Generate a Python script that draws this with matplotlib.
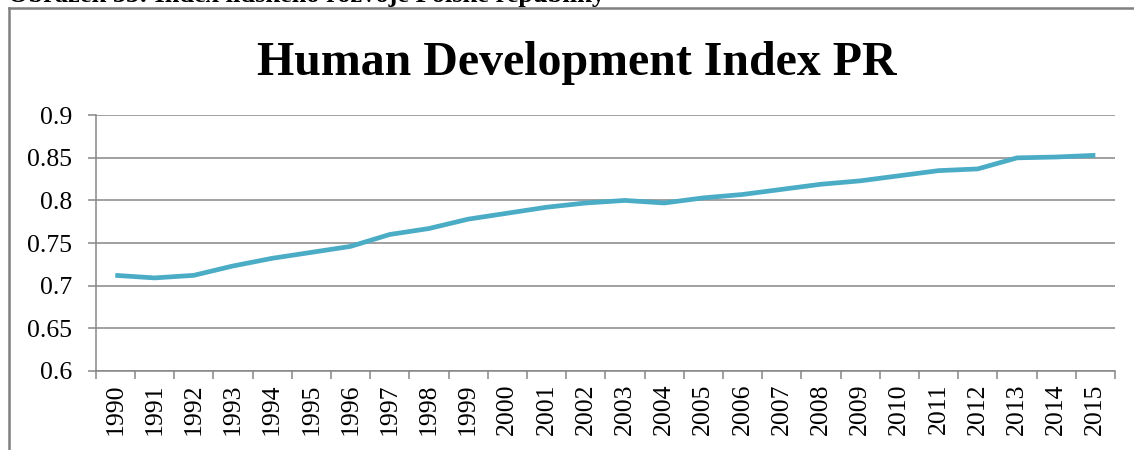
import matplotlib
matplotlib.use("Agg")
import numpy as np
from matplotlib import pyplot as plt
from matplotlib.lines import Line2D

years = [str(y) for y in range(1990, 2016)]
hdi = [0.712, 0.709, 0.712, 0.723, 0.732, 0.739, 0.746, 0.760, 0.767, 0.778,
       0.785, 0.792, 0.797, 0.800, 0.797, 0.803, 0.807, 0.813, 0.819, 0.823,
       0.829, 0.835, 0.837, 0.850, 0.851, 0.853]
yticks = [0.6, 0.65, 0.7, 0.75, 0.8, 0.85, 0.9]

plt.rcParams['font.family'] = ['Liberation Serif', 'DejaVu Serif']

grey = '#868686'

fig = plt.figure(figsize=(11.34, 4.5), dpi=100)
ax = fig.add_axes([0.0844, 0.1762, 0.8988, 0.5676])

x = np.arange(len(years))
ax.plot(x, hdi, color='#4BACC6', lw=3.4, solid_capstyle='butt')

ax.set_xlim(-0.5, len(years) - 0.5)
ax.set_ylim(0.6, 0.9)
ax.set_yticks(yticks)
ax.set_yticklabels([('%g' % v) for v in yticks])
ax.yaxis.grid(True, color=grey, lw=1.1)
ax.set_axisbelow(True)

ax.set_xticks(x)
ax.set_xticklabels(years, rotation=90)
ax.set_xticks(np.arange(len(years) + 1) - 0.5, minor=True)
ax.tick_params(axis='x', which='major', length=0, pad=9, labelsize=18.5)
ax.tick_params(axis='x', which='minor', length=6, color=grey, width=1.1)
ax.tick_params(axis='y', length=6, color=grey, width=1.1, pad=11, labelsize=18.5)

for s in ['top', 'right']:
    ax.spines[s].set_visible(False)
for s in ['left', 'bottom']:
    ax.spines[s].set_color(grey)
    ax.spines[s].set_linewidth(1.1)

fig.text(0.509, 1 - 75 / 450, 'Human Development Index PR', ha='center', va='baseline',
         fontsize=34.5, fontweight='bold')

# cut-off caption above the chart frame
fig.text(8 / 1134, 1 - 2 / 450, 'Obrázek 33: Index lidského rozvoje Polské republiky',
         ha='left', va='baseline', fontsize=19, fontweight='bold')

# chart frame (left and top edges)
fig.add_artist(Line2D([8.5 / 1134, 8.5 / 1134], [0, 1 - 7.5 / 450],
                      transform=fig.transFigure, color='#808080', lw=1.8))
fig.add_artist(Line2D([8.5 / 1134, 1], [1 - 7.5 / 450, 1 - 7.5 / 450],
                      transform=fig.transFigure, color='#808080', lw=1.8))

fig.savefig('out.png', dpi=100)
